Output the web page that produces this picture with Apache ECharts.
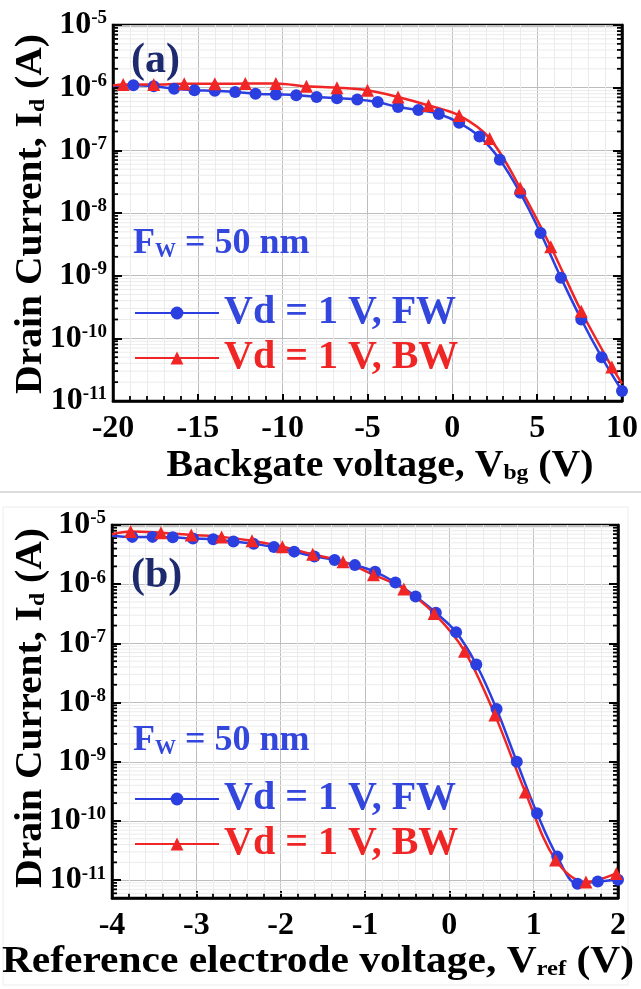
<!DOCTYPE html>
<html><head><meta charset="utf-8">
<script src="https://cdn.jsdelivr.net/npm/echarts@6/dist/echarts.min.js"></script>
<style>html,body{margin:0;padding:0;background:#fff}#c{width:641px;height:989px}</style>
</head><body><div id="c"></div>
<script>
// ---------- Panel (a): backgate sweep ----------
const aFW_x = [-20, -18.8, -17.6, -16.4, -15.2, -14.0, -12.8, -11.6, -10.4, -9.2, -8.0, -6.8, -5.6, -4.4, -3.2, -2.0, -0.8, 0.4, 1.6, 2.8, 4.0, 5.2, 6.4, 7.6, 8.8, 10.0];
const aFW_y = [1.06e-6, 1.09e-6, 1.05e-6, 9.6e-7, 9.1e-7, 8.9e-7, 8.5e-7, 8.0e-7, 7.8e-7, 7.6e-7, 7.1e-7, 6.8e-7, 6.5e-7, 5.9e-7, 4.9e-7, 4.4e-7, 3.8e-7, 2.75e-7, 1.66e-7, 7.1e-8, 2.1e-8, 4.8e-9, 9.3e-10, 2.0e-10, 5.0e-11, 1.45e-11];
const aBW_x = [-20, -19.4, -17.6, -15.8, -14.0, -12.2, -10.4, -8.6, -6.8, -5.0, -3.2, -1.4, 0.4, 2.2, 4.0, 5.8, 7.6, 9.4, 10.0];
const aBW_y = [1.08e-6, 1.12e-6, 1.12e-6, 1.15e-6, 1.15e-6, 1.17e-6, 1.17e-6, 1.05e-6, 1.0e-6, 9.1e-7, 7.1e-7, 5.2e-7, 3.6e-7, 1.55e-7, 2.5e-8, 2.9e-9, 2.7e-10, 3.5e-11, 1.9e-11];
// ---------- Panel (b): reference electrode sweep ----------
const bFW_x = [-4.0, -3.76, -3.52, -3.28, -3.04, -2.80, -2.56, -2.32, -2.08, -1.84, -1.60, -1.36, -1.12, -0.88, -0.64, -0.40, -0.16, 0.08, 0.32, 0.56, 0.80, 1.04, 1.28, 1.52, 1.76, 2.00];
const bFW_y = [6.6e-6, 6.3e-6, 6.3e-6, 6.2e-6, 5.9e-6, 5.75e-6, 5.25e-6, 4.8e-6, 4.25e-6, 3.55e-6, 2.95e-6, 2.57e-6, 2.1e-6, 1.62e-6, 1.07e-6, 6.2e-7, 3.3e-7, 1.55e-7, 4.4e-8, 7.8e-9, 1.0e-9, 1.35e-10, 2.5e-11, 8.7e-12, 9.5e-12, 1.02e-11];
const bBW_x = [-4.0, -3.78, -3.42, -3.06, -2.70, -2.34, -1.98, -1.62, -1.26, -0.90, -0.54, -0.18, 0.18, 0.54, 0.90, 1.26, 1.62, 1.98];
const bBW_y = [7.0e-6, 7.8e-6, 7.4e-6, 6.8e-6, 6.3e-6, 5.4e-6, 4.3e-6, 3.2e-6, 2.4e-6, 1.45e-6, 8.3e-7, 3.2e-7, 7.4e-8, 6.2e-9, 3.1e-10, 2.2e-11, 9.3e-12, 1.3e-11];
// points that only continue the line to the frame (no marker)
const aFW_plain = [-20];
const aBW_plain = [-20, 10.0];
const bFW_plain = [-4.0];
const bBW_plain = [-4.0];

const xTicksA = {min: -20, max: 10, interval: 5};
const xTicksB = {min: -4, max: 2, interval: 1};
const yRangeA = {min: 1e-11, max: 1e-5};
const yRangeB = {min: 5e-12, max: 1e-5};

const nameFW = 'Vd = 1 V, FW';
const nameBW = 'Vd = 1 V, BW';
const BLUE = '#2b3fe0', RED = '#f02626', NAVY = '#1d2b6e', LEG_BLUE = '#3447dc';
const FONT = '"Liberation Serif", "Times New Roman", serif';

function pts(xs, ys, plain) {
  return xs.map((x, i) => plain.indexOf(x) >= 0
    ? {value: [x, ys[i]], symbol: 'none'}
    : {value: [x, ys[i]]});
}
function minorVals(r) {
  const out = [];
  for (let n = -13; n <= -5; n++) for (let k = 2; k <= 9; k++) {
    const v = k * Math.pow(10, n);
    if (v > r.min * 1.0001 && v < r.max * 0.9999) out.push(v);
  }
  return out;
}
function isDecade(v) {
  const l = Math.log10(v);
  return Math.abs(l - Math.round(l)) < 1e-6;
}
const yLabel = {
  show: true, margin: 6,
  formatter: v => isDecade(v) ? '{b|10}{s|' + Math.round(Math.log10(v)) + '}' : '',
  rich: {
    b: {fontFamily: FONT, fontWeight: 'bold', fontSize: 32, lineHeight: 32, verticalAlign: 'bottom', color: '#000'},
    s: {fontFamily: FONT, fontWeight: 'bold', fontSize: 19, lineHeight: 19, verticalAlign: 'top', color: '#000'}
  },
  lineHeight: 40
};
function xAxisCfg(ti, gi) {
  return {
    type: 'value', gridIndex: gi, min: ti.min, max: ti.max, interval: ti.interval,
    axisLine: {show: true, onZero: false, lineStyle: {color: '#000', width: 2.5}},
    axisTick: {show: true, inside: true, length: 7, lineStyle: {color: '#000', width: 2}},
    minorTick: {show: true, splitNumber: 5, length: 5, lineStyle: {color: '#000', width: 1.8}},
    splitLine: {show: true, lineStyle: {color: '#bdbdbd', width: 1}},
    minorSplitLine: {show: true, lineStyle: {color: '#ebebeb', width: 1}},
    axisLabel: {fontFamily: FONT, fontWeight: 'bold', fontSize: 32, color: '#000', margin: 12,
      formatter: v => String(v)}
  };
}
function yAxisCfg(r, gi, right) {
  return {
    type: 'log', logBase: 10, gridIndex: gi, min: r.min, max: r.max,
    position: right ? 'right' : 'left',
    axisLine: {show: true, onZero: false, lineStyle: {color: '#000', width: 2.5}},
    axisTick: {show: true, inside: true, length: 9, lineStyle: {color: '#000', width: 2}},
    splitLine: {show: !right, lineStyle: {color: '#bdbdbd', width: 1}},
    axisLabel: right ? {show: false} : yLabel
  };
}
function minorSeries(r, ti, xi, yi) {
  return {
    type: 'custom', xAxisIndex: xi, yAxisIndex: yi, silent: true, z: 1,
    clip: false,
    data: minorVals(r).map(v => [ti.min, v]),
    renderItem: (params, api) => {
      const cs = params.coordSys;
      const y = api.coord([api.value(0), api.value(1)])[1];
      return {type: 'group', children: [
        {type: 'line', shape: {x1: cs.x, y1: y, x2: cs.x + cs.width, y2: y}, style: {stroke: '#ebebeb', lineWidth: 1}},
        {type: 'line', shape: {x1: cs.x, y1: y, x2: cs.x + 5, y2: y}, style: {stroke: '#000', lineWidth: 1.8}},
        {type: 'line', shape: {x1: cs.x + cs.width - 5, y1: y, x2: cs.x + cs.width, y2: y}, style: {stroke: '#000', lineWidth: 1.8}}
      ]};
    }
  };
}
function lineSeries(name, data, color, symbol, size, xi, yi) {
  return {
    name, type: 'line', xAxisIndex: xi, yAxisIndex: yi, data, z: 3,
    smooth: 0.35, symbol, symbolSize: size, showAllSymbol: true,
    lineStyle: {color, width: 2.5}, itemStyle: {color, borderWidth: 0}
  };
}
const legendCfg = (top) => ({
  orient: 'vertical', left: 129, top, itemWidth: 84, itemHeight: 16, itemGap: 5,
  selectedMode: false,
  textStyle: {fontFamily: FONT, fontWeight: 'bold', fontSize: 40, lineHeight: 40},
  data: [
    {name: nameFW, textStyle: {color: LEG_BLUE}},
    {name: nameBW, textStyle: {color: RED}}
  ]
});
const tagTitle = (left, top, t) => ({
  text: t, left, top, padding: 0,
  textStyle: {fontFamily: FONT, fontWeight: 'bold', fontSize: 42, lineHeight: 44, color: NAVY}
});
const fwTitle = (left, top) => ({
  text: '{m|F}{s|W}{m| = 50 nm}', left, top, padding: 0,
  textStyle: {
    lineHeight: 44,
    rich: {
      m: {fontFamily: FONT, fontWeight: 'bold', fontSize: 36, lineHeight: 36, verticalAlign: 'top', color: LEG_BLUE},
      s: {fontFamily: FONT, fontWeight: 'bold', fontSize: 21, lineHeight: 21, verticalAlign: 'bottom', color: LEG_BLUE}
    }
  }
});
const rotTitle = (cx, cy) => ({
  type: 'text', x: cx, y: cy, rotation: Math.PI / 2, scaleX: 1.07,
  style: {
    text: '{m|Drain Current, I}{s|d}{m| (A)}',
    align: 'center', verticalAlign: 'middle',
    rich: {
      m: {fontFamily: FONT, fontWeight: 'bold', fontSize: 37, lineHeight: 37, verticalAlign: 'top', fill: '#000'},
      s: {fontFamily: FONT, fontWeight: 'bold', fontSize: 22, lineHeight: 22, verticalAlign: 'bottom', fill: '#000'}
    },
    lineHeight: 48
  }
});
const xTitle = (cx, cy, main, sub, sx) => ({
  type: 'text', x: cx, y: cy, scaleX: sx,
  style: {
    text: '{m|' + main + '}{s|' + sub + '}{m| (V)}',
    align: 'center', verticalAlign: 'middle',
    rich: {
      m: {fontFamily: FONT, fontWeight: 'bold', fontSize: 37, lineHeight: 37, verticalAlign: 'top', fill: '#000'},
      s: {fontFamily: FONT, fontWeight: 'bold', fontSize: 22, lineHeight: 22, verticalAlign: 'bottom', fill: '#000'}
    },
    lineHeight: 48
  }
});

const chart = echarts.init(document.getElementById('c'), null, {renderer: 'canvas'});
chart.setOption({
  backgroundColor: '#fff',
  animation: false,
  title: [tagTitle(131, 39, '(a)'), tagTitle(131, 554, '(b)'), fwTitle(133, 226), fwTitle(133, 723)],
  grid: [
    {left: 113, top: 25, width: 511, height: 376, show: true, borderColor: '#000', borderWidth: 2.5, backgroundColor: '#fff'},
    {left: 112, top: 525, width: 506, height: 373, show: true, borderColor: '#000', borderWidth: 2.5, backgroundColor: '#fff'}
  ],
  xAxis: [xAxisCfg(xTicksA, 0), xAxisCfg(xTicksB, 1)],
  yAxis: [yAxisCfg(yRangeA, 0, false), yAxisCfg(yRangeA, 0, true), yAxisCfg(yRangeB, 1, false), yAxisCfg(yRangeB, 1, true)],
  legend: [legendCfg(288), legendCfg(774)],
  series: [
    minorSeries(yRangeA, xTicksA, 0, 0),
    minorSeries(yRangeB, xTicksB, 1, 2),
    lineSeries(nameFW, pts(aFW_x, aFW_y, aFW_plain), BLUE, 'circle', 12, 0, 0),
    lineSeries(nameBW, pts(aBW_x, aBW_y, aBW_plain), RED, 'triangle', 13, 0, 0),
    lineSeries(nameFW, pts(bFW_x, bFW_y, bFW_plain), BLUE, 'circle', 12, 1, 2),
    lineSeries(nameBW, pts(bBW_x, bBW_y, bBW_plain), RED, 'triangle', 13, 1, 2)
  ],
  graphic: [
    {type: 'line', shape: {x1: 0, y1: 492, x2: 641, y2: 492}, style: {stroke: '#d0d0d0', lineWidth: 1.5}},
    {type: 'rect', shape: {x: 3, y: 507, width: 625, height: 478}, style: {fill: 'none', stroke: '#ececec', lineWidth: 1}, z: -1},
    rotTitle(31, 214),
    rotTitle(31, 708),
    xTitle(380, 466, 'Backgate voltage, V', 'bg', 1.075),
    xTitle(318, 962, 'Reference electrode voltage, V', 'ref', 1.12)
  ]
});
</script>
</body></html>
